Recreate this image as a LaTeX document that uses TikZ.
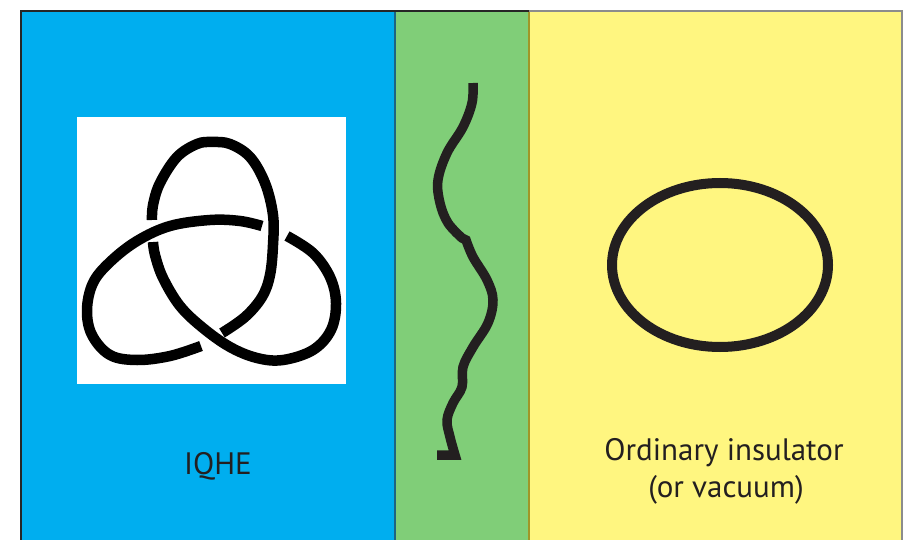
\documentclass[tikz,border=0pt]{standalone}
\usepackage{fontspec}
\setmainfont{PT Sans}
\definecolor{cyanbg}{RGB}{0,174,239}
\definecolor{greenbg}{RGB}{128,206,120}
\definecolor{yellowbg}{RGB}{255,246,128}
\definecolor{ink}{RGB}{35,31,32}
\definecolor{tealline}{RGB}{30,100,130}
\definecolor{oliveline}{RGB}{160,150,40}
\definecolor{grayline}{RGB}{140,140,140}
\tikzset{
  knotstrand/.style={line width=10.5pt, black, line cap=butt},
  wavestroke/.style={line width=9.5pt, ink, line cap=butt, line join=miter},
  ringstroke/.style={line width=10pt, ink},
  label/.style={font=\fontsize{31}{37}\selectfont, text=ink, inner sep=0pt, anchor=base}
}
\begin{document}
\begin{tikzpicture}[x=1pt,y=-1pt]
\useasboundingbox (0,0) rectangle (910,540);
\fill[white] (0,0) rectangle (910,540);
% panels
\fill[cyanbg] (21,11) rectangle (395,540);
\fill[greenbg] (395,11) rectangle (529,540);
\fill[yellowbg] (529,11) rectangle (902,540);
\draw[tealline, line width=1.5pt] (395,11) -- (395,540);
\draw[oliveline, line width=1.8pt] (529,11) -- (529,540);
\draw[black!85, line width=2.5pt] (21,540) -- (21,11) -- (529,11);
\draw[grayline, line width=2.5pt] (529,11) -- (902,11) -- (902,540);
% knot panel
\fill[white] (77,117) rectangle (346,384);
\draw[knotstrand] plot[smooth, tension=0.6] coordinates {(152,220) (153,205) (160,183) (177,157) (197,144) (212,142) (230,144) (250,157) (265,183) (273,215) (273,245) (270,275) (262,297) (245,317) (222,333)};
\draw[knotstrand] plot[smooth, tension=0.6] coordinates {(201,346) (170,356) (137,360) (110,355) (92,335) (87,310) (93,283) (110,262) (137,241) (170,226) (210,220) (240,221) (262,226)};
\draw[knotstrand] plot[smooth, tension=0.6] coordinates {(287,236) (313,253) (330,277) (336,303) (331,330) (313,350) (283,360) (257,358) (230,347) (203,328) (180,306) (163,278) (155,255) (153,242)};
% wavy edge
\draw[wavestroke] plot[smooth, tension=0.6] coordinates {(473,83) (472,103) (463,127) (447,153) (438,180) (440,203) (448,223) (462,238)}
  -- plot[smooth, tension=0.6] coordinates {(466,240) (473,257) (487,280) (493,300) (488,323) (473,347) (463,367) (462,387) (453,403) (447,420) (450,437) (455,455)} -- (437,455);
% ordinary insulator loop
\draw[ringstroke] (720,265) ellipse [x radius=108pt, y radius=82pt];
% labels
\node[label] (iqhe) at (218,474) {IQHE};
\node[label] (ord) at (724,460) {Ordinary insulator};
\node[label] (vac) at (726,497) {(or vacuum)};
\end{tikzpicture}
\end{document}
